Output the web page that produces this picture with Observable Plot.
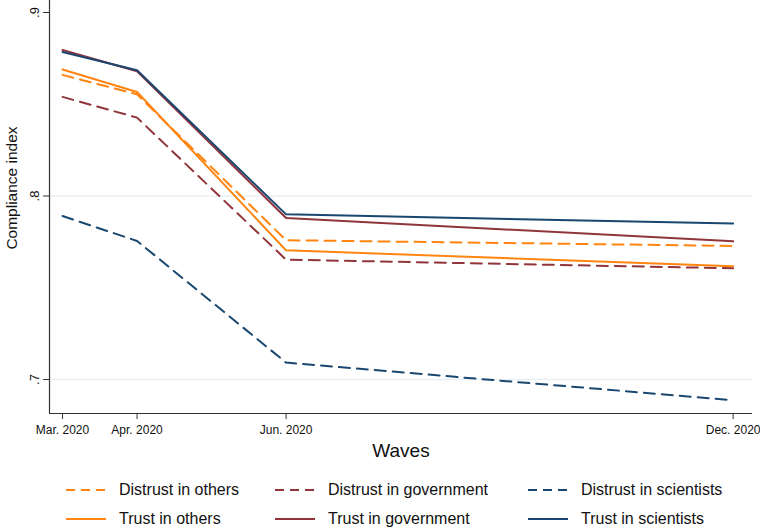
<!DOCTYPE html>
<html>
<head>
<meta charset="utf-8">
<script src="https://cdn.jsdelivr.net/npm/d3@7"></script>
<script src="https://cdn.jsdelivr.net/npm/@observablehq/plot@0.6"></script>
<style>
  html, body { margin: 0; padding: 0; background: #fff; }
  body { width: 760px; height: 529px; overflow: hidden; font-family: "Liberation Sans", Arial, sans-serif; }
  #legend { position: relative; height: 59px; width: 760px; font-size: 16px; color: #111; }
  .item { position: absolute; display: flex; align-items: center; }
  .item svg { margin-right: 13px; }
</style>
</head>
<body>
<div id="chart"></div>
<div id="legend"></div>
<script>
// Waves (month of 2020) and their labels
const waveMonths = [3, 4, 6, 12];
const waveLabels = ["Mar. 2020", "Apr. 2020", "Jun. 2020", "Dec. 2020"];

// Series values (compliance index) per wave
const distrustOthers     = [0.866, 0.8554, 0.7759, 0.7728];
const distrustGovernment = [0.854, 0.8427, 0.7653, 0.7606];
const distrustScientists = [0.7891, 0.7755, 0.7092, 0.6887];
const trustOthers        = [0.8689, 0.8567, 0.7704, 0.7617];
const trustGovernment    = [0.8796, 0.868, 0.788, 0.7753];
const trustScientists    = [0.8785, 0.8685, 0.790, 0.785];

const yTicks = [0.7, 0.8, 0.9];
const gridTicks = [0.7, 0.8];

const series = [
  {name: "Distrust in others", values: distrustOthers, color: "#ff8410", dash: true},
  {name: "Distrust in government", values: distrustGovernment, color: "#90353b", dash: true},
  {name: "Distrust in scientists", values: distrustScientists, color: "#1a476f", dash: true},
  {name: "Trust in others", values: trustOthers, color: "#ff8410", dash: false},
  {name: "Trust in government", values: trustGovernment, color: "#90353b", dash: false},
  {name: "Trust in scientists", values: trustScientists, color: "#1a476f", dash: false}
];

const rows = series.flatMap(s => s.values.map((v, i) => ({series: s.name, month: waveMonths[i], value: v})));
const labelOf = new Map(waveMonths.map((m, i) => [m, waveLabels[i]]));

const lineMarks = series.map(s => Plot.line(rows.filter(r => r.series === s.name), {
  x: "month", y: "value",
  stroke: s.color, strokeWidth: 2,
  strokeDasharray: s.dash ? "11,7" : null,
  strokeLinejoin: "miter"
}));

const chart = Plot.plot({
  width: 760,
  height: 470,
  marginLeft: 49,
  marginRight: 8,
  marginTop: 0,
  marginBottom: 57,
  style: {fontFamily: "Liberation Sans, Arial, sans-serif", background: "#fff", color: "#111"},
  x: {domain: [2.825, 12.26], axis: null},
  y: {domain: [0.68147, 0.90654], axis: null},
  marks: [
    Plot.gridY(gridTicks, {stroke: "#e8f0f3", strokeOpacity: 1, strokeWidth: 1.5}),
    ...lineMarks,
    Plot.axisY(yTicks, {
      tickSize: 6, tickPadding: 5, tickRotate: -90,
      tickFormat: d => d3.format(".1f")(d).replace(/^0/, ""),
      fontSize: 13, label: null, stroke: "#333"
    }),
    Plot.axisX(waveMonths, {
      tickSize: 6, tickPadding: 6,
      tickFormat: d => labelOf.get(d),
      fontSize: 12, label: null, stroke: "#333"
    }),
    Plot.ruleX([2.825], {stroke: "#333", strokeWidth: 1.2}),
    Plot.ruleY([0.68147], {stroke: "#333", strokeWidth: 1.2}),
    Plot.text(["Waves"], {frameAnchor: "bottom", dy: 43, fontSize: 19, fill: "#111"}),
    Plot.text(["Compliance index"], {frameAnchor: "left", dx: -37, dy: -19, rotate: -90, textAnchor: "middle", fontSize: 15.5, fill: "#111"})
  ]
});
document.getElementById("chart").appendChild(chart);

// Legend (HTML, below the SVG)
const legend = document.getElementById("legend");
const colX = [66, 275, 528];
const rowY = [11, 40];
const order = [
  ["Distrust in others", 0, 0], ["Distrust in government", 1, 0], ["Distrust in scientists", 2, 0],
  ["Trust in others", 0, 1], ["Trust in government", 1, 1], ["Trust in scientists", 2, 1]
];
for (const [name, c, r] of order) {
  const s = series.find(d => d.name === name);
  const div = document.createElement("div");
  div.className = "item";
  div.style.left = colX[c] + "px";
  div.style.top = rowY[r] + "px";
  div.innerHTML = `<svg width="40" height="16"><line x1="0" x2="40" y1="8" y2="8" stroke="${s.color}" stroke-width="2" ${s.dash ? 'stroke-dasharray="9,6"' : ''}/></svg><span>${name}</span>`;
  legend.appendChild(div);
}
</script>
</body>
</html>
